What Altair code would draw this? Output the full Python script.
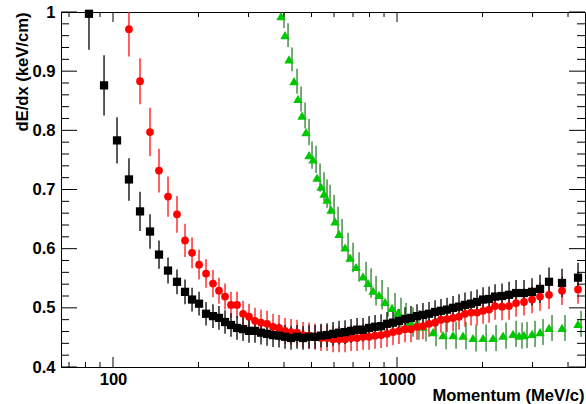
import altair as alt
import pandas as pd

# ---------------- data ----------------
# momentum grid (MeV/c) shared by the black and red series
p_grid = [82.3, 93.0, 103.3, 113.8, 124.5, 135.0, 145.2, 156.2, 168.0, 179.3,
          189.8, 200.9, 212.6, 224.9, 236.1, 248.0, 260.3, 273.3, 287.0, 301.2,
          316.2, 332.0, 348.6, 366.0, 384.2, 403.4, 423.5, 444.6, 466.8, 490.0,
          514.5, 540.1, 567.1, 595.4, 625.0, 656.2, 688.9, 723.3, 759.3, 797.2,
          836.9, 878.6, 922.3, 968.2, 1016, 1067, 1120, 1176, 1234, 1296,
          1361, 1428, 1500, 1575, 1653, 1735, 1822, 1913, 2009, 2109,
          2214, 2343, 2480, 2625, 2800, 2988, 3188, 3429, 3810, 4338]

black_v = [0.997, 0.876, 0.783, 0.717, 0.663, 0.629, 0.590, 0.563, 0.544, 0.527,
           0.514, 0.507, 0.490, 0.486, 0.483, 0.476, 0.471, 0.466, 0.464, 0.461,
           0.461, 0.458, 0.456, 0.454, 0.453, 0.451, 0.449, 0.451, 0.449, 0.451,
           0.451, 0.453, 0.454, 0.456, 0.458, 0.459, 0.461, 0.463, 0.463, 0.466,
           0.468, 0.469, 0.473, 0.475, 0.478, 0.481, 0.483, 0.486, 0.488, 0.490,
           0.493, 0.495, 0.497, 0.500, 0.502, 0.505, 0.507, 0.510, 0.514, 0.515,
           0.519, 0.520, 0.522, 0.525, 0.525, 0.527, 0.532, 0.544, 0.542, 0.551]
black_e = [0.061, 0.051, 0.039, 0.036, 0.033, 0.029, 0.024, 0.022, 0.021, 0.021,
           0.020, 0.020, 0.020, 0.020, 0.020, 0.020, 0.020, 0.020, 0.020, 0.020,
           0.020, 0.020, 0.020, 0.020, 0.020, 0.020, 0.020, 0.020, 0.020, 0.020,
           0.020, 0.020, 0.020, 0.020, 0.020, 0.020, 0.020, 0.020, 0.020, 0.020,
           0.020, 0.020, 0.020, 0.020, 0.020, 0.020, 0.020, 0.020, 0.020, 0.020,
           0.020, 0.020, 0.020, 0.020, 0.021, 0.021, 0.021, 0.021, 0.021, 0.021,
           0.021, 0.021, 0.022, 0.022, 0.022, 0.023, 0.024, 0.024, 0.024, 0.025]

red_p = p_grid[3:]
red_v = [0.971, 0.883, 0.797, 0.732, 0.688, 0.658, 0.614, 0.593, 0.573, 0.558,
         0.541, 0.529, 0.519, 0.505, 0.505, 0.490, 0.485, 0.478, 0.475, 0.473,
         0.468, 0.466, 0.461, 0.459, 0.458, 0.454, 0.453, 0.451, 0.449, 0.449,
         0.447, 0.447, 0.447, 0.449, 0.449, 0.451, 0.451, 0.453, 0.454, 0.456,
         0.459, 0.461, 0.464, 0.464, 0.468, 0.469, 0.473, 0.475, 0.480, 0.481,
         0.483, 0.485, 0.490, 0.492, 0.492, 0.495, 0.497, 0.503, 0.502, 0.503,
         0.508, 0.510, 0.514, 0.519, 0.522, 0.529, 0.531]
red_e = [0.046, 0.039, 0.041, 0.037, 0.034, 0.031, 0.028, 0.026, 0.025, 0.024,
         0.023, 0.022, 0.022, 0.022, 0.022, 0.022, 0.022, 0.022, 0.022, 0.022,
         0.022, 0.022, 0.022, 0.022, 0.022, 0.022, 0.022, 0.022, 0.022, 0.022,
         0.022, 0.022, 0.022, 0.022, 0.022, 0.022, 0.022, 0.022, 0.022, 0.022,
         0.022, 0.022, 0.022, 0.022, 0.022, 0.022, 0.022, 0.022, 0.022, 0.022,
         0.022, 0.022, 0.022, 0.022, 0.022, 0.022, 0.022, 0.023, 0.023, 0.023,
         0.023, 0.023, 0.023, 0.024, 0.024, 0.024, 0.024]

green_p = [390.4, 403.4, 416.7, 433.9, 448.2, 463.1, 478.3, 490.0, 506.2, 522.9,
           540.1, 553.4, 567.1, 585.9, 605.2, 625.0, 656.2, 683.3, 717.5, 759.3,
           790.8, 823.4, 864.4, 907.6, 960.4, 1008, 1050, 1111, 1166, 1234,
           1339, 1452, 1575, 1707, 1852, 2009, 2178, 2362, 2562, 2689,
           2800, 2988, 3188, 3429, 3810, 4338]
green_v = [0.993, 0.961, 0.920, 0.883, 0.853, 0.825, 0.797, 0.758, 0.751, 0.720,
           0.705, 0.693, 0.683, 0.666, 0.646, 0.625, 0.602, 0.585, 0.569, 0.553,
           0.542, 0.529, 0.522, 0.510, 0.500, 0.492, 0.483, 0.476, 0.471, 0.468,
           0.459, 0.454, 0.454, 0.453, 0.449, 0.449, 0.449, 0.453, 0.456, 0.453,
           0.454, 0.456, 0.459, 0.466, 0.466, 0.473]
green_e = [0.020, 0.020, 0.020, 0.021, 0.021, 0.022, 0.022, 0.023, 0.023, 0.024,
           0.024, 0.024, 0.025, 0.025, 0.025, 0.025, 0.025, 0.025, 0.025, 0.025,
           0.025, 0.025, 0.025, 0.025, 0.025, 0.025, 0.025, 0.025, 0.025, 0.025,
           0.024, 0.024, 0.023, 0.023, 0.023, 0.023, 0.022, 0.022, 0.022, 0.022,
           0.022, 0.022, 0.022, 0.022, 0.022, 0.022]

x_labels = [100, 1000]
x_minor = [70, 80, 90, 200, 300, 400, 500, 600, 700, 800, 900, 2000, 3000, 4000]
y_labels = [0.4, 0.5, 0.6, 0.7, 0.8, 0.9, 1.0]
y_minor = [0.42, 0.44, 0.46, 0.48, 0.52, 0.54, 0.56, 0.58, 0.62, 0.64, 0.66, 0.68,
           0.72, 0.74, 0.76, 0.78, 0.82, 0.84, 0.86, 0.88, 0.92, 0.94, 0.96, 0.98]


def frame(p, v, e):
    df = pd.DataFrame({"p": p, "v": v, "e": e})
    df["lo"] = df["v"] - df["e"]
    df["hi"] = df["v"] + df["e"]
    return df


black = frame(p_grid, black_v, black_e)
red = frame(red_p, red_v, red_e)
green = frame(green_p, green_v, green_e)

# ---------------- layout / style ----------------
W, H = 524, 355
FONT = "Liberation Sans"
FS = 16.6
xs = alt.Scale(type="log", domain=[65.6, 4590], nice=False)
ys = alt.Scale(domain=[0.4, 1.0], nice=False, zero=False)

xaxis = alt.Axis(title="Momentum (MeV/c)", values=x_labels, format="d",
                 ticks=False, tickSize=0, domain=False, grid=False,
                 labelFont=FONT, labelFontSize=FS, labelFontWeight="bold",
                 labelColor="black", labelPadding=4, labelFlush=False,
                 labelOverlap=False,
                 titleFont=FONT, titleFontSize=FS, titleFontWeight="bold",
                 titleColor="black", titleAlign="right", titleAnchor="end",
                 titleBaseline="alphabetic", titleX=W - 1, titleY=33)
yaxis = alt.Axis(title="dE/dx (keV/cm)", values=y_labels, format="~g",
                 ticks=False, tickSize=0, domain=False, grid=False,
                 labelFont=FONT, labelFontSize=FS, labelFontWeight="bold",
                 labelColor="black", labelPadding=6, labelFlush=False,
                 labelOverlap=False,
                 titleFont=FONT, titleFontSize=FS, titleFontWeight="bold",
                 titleColor="black", titleAngle=270, titleAlign="right",
                 titleBaseline="alphabetic", titleX=-34, titleY=0)

X = lambda: alt.X("p:Q", scale=xs, axis=xaxis)
Y = lambda: alt.Y("v:Q", scale=ys, axis=yaxis)


def bars(df, color, opacity=1.0, xoff=0):
    return alt.Chart(df).mark_rule(color=color, strokeWidth=1.6, opacity=opacity,
                                   clip=True, xOffset=xoff).encode(
        x=X(), y=alt.Y("lo:Q", scale=ys, axis=yaxis), y2="hi:Q")


def points(df, shape, color, size):
    return alt.Chart(df).mark_point(shape=shape, filled=True, size=size,
                                    color=color, opacity=1, strokeWidth=0).encode(
        x=X(), y=Y())


xmaj = pd.DataFrame({"p": x_labels})
xmin = pd.DataFrame({"p": x_minor})
ymaj = pd.DataFrame({"v": y_labels})
ymin = pd.DataFrame({"v": y_minor})


def xtick(df, y0, y1):
    return alt.Chart(df).mark_rule(color="black", strokeWidth=1).encode(
        x=X(), y=alt.value(y0), y2=alt.value(y1))


def ytick(df, x0, x1):
    return alt.Chart(df).mark_rule(color="black", strokeWidth=1).encode(
        y=Y(), x=alt.value(x0), x2=alt.value(x1))


layers = [
    bars(green, "#2a7a2a", 0.8, 3),
    bars(red, "#ff1a1a", 0.85),
    bars(black, "#1a1a1a", 0.9),
    points(green, "triangle-up", "#00c800", 90),
    points(red, "circle", "#ff0000", 60),
    points(black, "square", "#000000", 68),
    xtick(xmaj, H, H - 10), xtick(xmaj, 0, 10),
    xtick(xmin, H, H - 5), xtick(xmin, 0, 5),
    ytick(ymaj, 0, 16), ytick(ymaj, W, W - 16),
    ytick(ymin, 0, 8), ytick(ymin, W, W - 8),
]

chart = alt.layer(*layers).properties(
    width=W, height=H,
    padding={"left": 61, "top": 12, "right": 1, "bottom": 37},
    autosize=alt.AutoSizeParams(type="none"),
    background="white",
).configure_view(stroke="black", strokeWidth=1)

chart.save("out.html", embed_options={"renderer": "svg", "actions": False})
